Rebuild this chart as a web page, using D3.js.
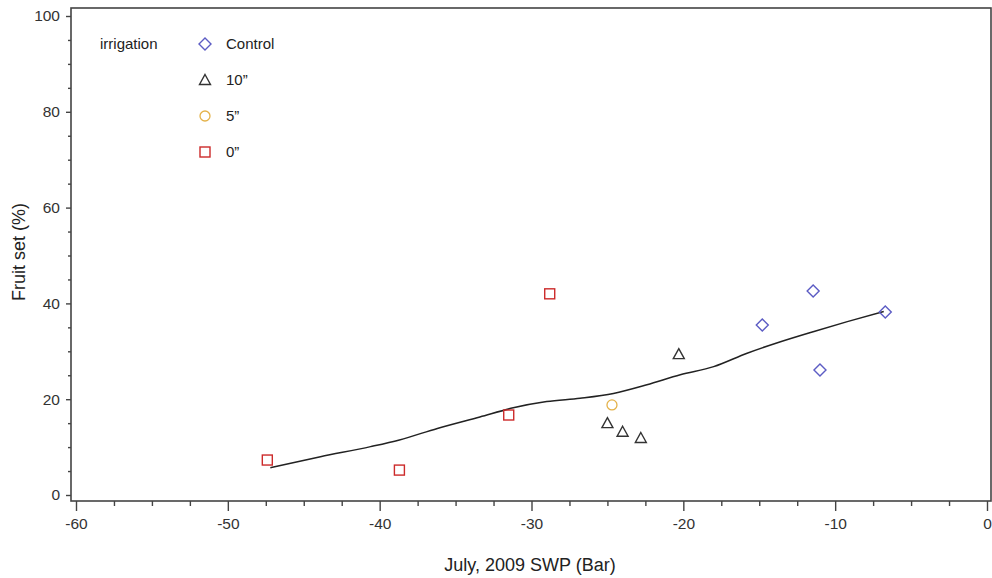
<!DOCTYPE html>
<html>
<head>
<meta charset="utf-8">
<script src="https://cdn.jsdelivr.net/npm/d3@7"></script>
<style>
  html, body { margin: 0; padding: 0; background: #fff; }
  svg { display: block; font-family: "Liberation Sans", Arial, sans-serif; }
</style>
</head>
<body>
<svg id="chart" width="992" height="578"></svg>
<script>
// Fruit set vs July 2009 stem water potential, by irrigation treatment
const controlX = [-14.8, -11.45, -11.0, -6.7];
const controlY = [35.5, 42.6, 26.1, 38.2];
const tenX = [-25.0, -24.0, -22.8, -20.3];
const tenY = [15.0, 13.2, 11.9, 29.4];
const fiveX = [-24.7];
const fiveY = [18.8];
const zeroX = [-47.4, -38.7, -31.5, -28.8];
const zeroY = [7.3, 5.2, 16.7, 42.0];

// smoothed fit across all treatments
const fitX = [-47.2, -43.9, -40.6, -38.7, -36.2, -33.4, -31.2, -29.0, -26.8, -24.6, -22.4, -20.2, -18.0, -15.8, -13.6, -11.45, -9.2, -6.8];
const fitY = [5.7, 8.0, 10.1, 11.5, 13.9, 16.3, 18.2, 19.5, 20.2, 21.2, 23.0, 25.1, 26.8, 29.6, 32.0, 34.1, 36.2, 38.3];

const xTicks = [-60, -50, -40, -30, -20, -10, 0];
const yTicks = [0, 20, 40, 60, 80, 100];
const legendLabels = ["Control", "10\u201D", "5\u201D", "0\u201D"];

const svg = d3.select("#chart");
const x = d3.scaleLinear().domain([-60, 0]).range([76, 987]);
const y = d3.scaleLinear().domain([0, 100]).range([495, 16]);

const frame = { left: 71, right: 991, top: 8, bottom: 501 };
const axisColor = "#444";
const textColor = "#333";
const plainNumber = d => String(d);

// plot frame
svg.append("rect")
  .attr("x", frame.left).attr("y", frame.top)
  .attr("width", frame.right - frame.left).attr("height", frame.bottom - frame.top)
  .attr("fill", "none").attr("stroke", axisColor).attr("stroke-width", 1.6);

// x axis: major and minor ticks
const xMinor = d3.range(-60, 0.01, 2.5).filter(v => !xTicks.includes(v));
const gxMinor = svg.append("g").attr("transform", `translate(0,${frame.bottom})`)
  .call(d3.axisBottom(x).tickValues(xMinor).tickSize(5).tickFormat(""));
const gx = svg.append("g").attr("transform", `translate(0,${frame.bottom})`)
  .call(d3.axisBottom(x).tickValues(xTicks).tickSize(10).tickPadding(7).tickFormat(plainNumber));
[gx, gxMinor].forEach(g => {
  g.select(".domain").remove();
  g.selectAll("line").attr("stroke", axisColor).attr("stroke-width", 1.4);
});
gx.selectAll("text").attr("font-size", 15.5).attr("fill", textColor)
  .attr("font-family", "Liberation Sans, Arial, sans-serif");

// y axis: major and minor ticks
const yMinor = d3.range(0, 100.01, 5).filter(v => !yTicks.includes(v));
const gyMinor = svg.append("g").attr("transform", `translate(${frame.left},0)`)
  .call(d3.axisLeft(y).tickValues(yMinor).tickSize(3).tickFormat(""));
const gy = svg.append("g").attr("transform", `translate(${frame.left},0)`)
  .call(d3.axisLeft(y).tickValues(yTicks).tickSize(5).tickPadding(6).tickFormat(plainNumber));
[gy, gyMinor].forEach(g => {
  g.select(".domain").remove();
  g.selectAll("line").attr("stroke", axisColor).attr("stroke-width", 1.4);
});
gy.selectAll("text").attr("font-size", 15.5).attr("fill", textColor)
  .attr("font-family", "Liberation Sans, Arial, sans-serif");

// axis titles
svg.append("text")
  .attr("x", 530).attr("y", 571)
  .attr("text-anchor", "middle").attr("font-size", 18).attr("fill", "#222")
  .text("July, 2009 SWP (Bar)");
svg.append("text")
  .attr("transform", "translate(25,252) rotate(-90)")
  .attr("text-anchor", "middle").attr("font-size", 18).attr("fill", "#222")
  .text("Fruit set (%)");

// fitted curve
const fit = fitX.map((v, i) => [v, fitY[i]]);
svg.append("path")
  .datum(fit)
  .attr("fill", "none").attr("stroke", "#222").attr("stroke-width", 1.5)
  .attr("d", d3.line().curve(d3.curveMonotoneX).x(d => x(d[0])).y(d => y(d[1])));

// marker shapes
const shapes = {
  diamond: (g, cx, cy, c) => g.append("path")
    .attr("d", `M${cx},${cy - 6}L${cx + 6},${cy}L${cx},${cy + 6}L${cx - 6},${cy}Z`)
    .attr("fill", "none").attr("stroke", c).attr("stroke-width", 1.4),
  triangle: (g, cx, cy, c) => g.append("path")
    .attr("d", `M${cx},${cy - 5.5}L${cx + 5.5},${cy + 4.5}L${cx - 5.5},${cy + 4.5}Z`)
    .attr("fill", "none").attr("stroke", c).attr("stroke-width", 1.4),
  circle: (g, cx, cy, c) => g.append("circle")
    .attr("cx", cx).attr("cy", cy).attr("r", 5)
    .attr("fill", "none").attr("stroke", c).attr("stroke-width", 1.3),
  square: (g, cx, cy, c) => g.append("rect")
    .attr("x", cx - 5).attr("y", cy - 5).attr("width", 10).attr("height", 10)
    .attr("fill", "none").attr("stroke", c).attr("stroke-width", 1.4)
};

const series = [
  { xs: controlX, ys: controlY, shape: "diamond", color: "#5c5cc4" },
  { xs: tenX, ys: tenY, shape: "triangle", color: "#333333" },
  { xs: fiveX, ys: fiveY, shape: "circle", color: "#e4b24a" },
  { xs: zeroX, ys: zeroY, shape: "square", color: "#cc2a2a" }
];

const pts = svg.append("g");
series.forEach(s => {
  s.xs.forEach((v, i) => shapes[s.shape](pts, x(v), y(s.ys[i]), s.color));
});

// legend
const leg = svg.append("g");
leg.append("text").attr("x", 100).attr("y", 49).attr("font-size", 15).attr("fill", "#222")
  .text("irrigation");
series.forEach((s, i) => {
  const cy = 44 + i * 36;
  shapes[s.shape](leg, 205, cy, s.color);
  leg.append("text").attr("x", 226).attr("y", cy + 5).attr("font-size", 15).attr("fill", "#222")
    .text(legendLabels[i]);
});
</script>
</body>
</html>
